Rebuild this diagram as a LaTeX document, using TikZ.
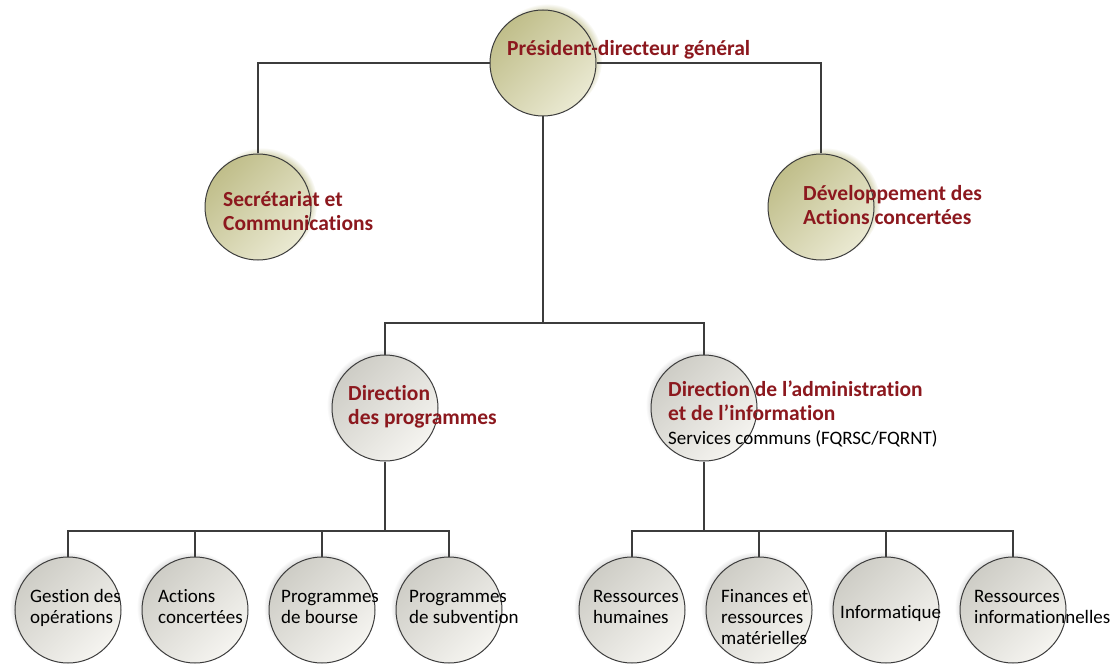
\documentclass[tikz,border=0pt]{standalone}
\usepackage{fontspec}
\setmainfont{Carlito}[Ligatures=NoCommon]
\usepackage{tikz}
\usetikzlibrary{positioning,shadows}
\definecolor{titlered}{RGB}{140,24,30}
\definecolor{olivedark}{RGB}{192,190,138}
\definecolor{olivelight}{RGB}{234,233,210}
\definecolor{graydark}{RGB}{206,205,198}
\definecolor{graylight}{RGB}{245,244,240}
\definecolor{linegray}{RGB}{60,60,60}
\tikzstyle{topunit}=[circle, draw=linegray, line width=1pt, minimum size=106pt, inner sep=0pt, shading=axis, top color=olivedark, bottom color=olivelight, shading angle=45, circular drop shadow={shadow xshift=4pt, shadow yshift=4pt, shadow scale=1.04, fill=olivedark, opacity=.7}]
\tikzstyle{subunit}=[circle, draw=linegray, line width=1pt, minimum size=106pt, inner sep=0pt, shading=axis, top color=graydark, bottom color=graylight, shading angle=45, circular drop shadow={shadow xshift=-3pt, shadow yshift=3pt, shadow scale=1.04, fill=black!40, opacity=.45}]
\tikzstyle{headtext}=[anchor=west, align=left, inner sep=0pt, text=titlered, font=\fontsize{21.5}{24}\selectfont\bfseries, execute at begin node=\strut, execute at end node=\strut]
\tikzstyle{unittext}=[anchor=west, align=left, inner sep=0pt, font=\fontsize{19}{21}\selectfont, execute at begin node=\strut, execute at end node=\strut]
\tikzstyle{link}=[draw=linegray, line width=1.3pt]
\begin{document}
\begin{tikzpicture}[x=1pt, y=-1pt, node distance=127pt]
\useasboundingbox (0,0) rectangle (1115,668);
% direction
\node[topunit] (pdg) at (543,63) {};
\node[topunit] (sec) at (258,207) {};
\node[topunit] (dev) at (821,207) {};
\node[subunit] (dprog) at (385,408) {};
\node[subunit] (dadm) at (704,408) {};
% services
\node[subunit] (gest) at (68,610) {};
\node[subunit, right of=gest] (act) {};
\node[subunit, right of=act] (bourse) {};
\node[subunit, right of=bourse] (subv) {};
\node[subunit] (rh) at (632,610) {};
\node[subunit, right of=rh] (fin) {};
\node[subunit, right of=fin] (info) {};
\node[subunit, right of=info] (rinfo) {};
% liens
\draw[link] (sec.north) |- (pdg.west);
\draw[link] (pdg.east) -| (dev.north);
\coordinate (midbus) at (543,323);
\draw[link] (pdg.south) -- (midbus);
\draw[link] (dprog.north) |- (midbus) -| (dadm.north);
\coordinate (progbus) at (385,531);
\draw[link] (dprog.south) -- (progbus);
\draw[link] (gest.north) |- (progbus) -| (subv.north);
\draw[link] (act.north) -- (act.north |- progbus);
\draw[link] (bourse.north) -- (bourse.north |- progbus);
\coordinate (admbus) at (704,531);
\draw[link] (dadm.south) -- (admbus);
\draw[link] (rh.north) |- (admbus) -| (rinfo.north);
\draw[link] (fin.north) -- (fin.north |- admbus);
\draw[link] (info.north) -- (info.north |- admbus);
% textes
\node[headtext] (pdglbl) at ([xshift=-36pt,yshift=12pt]pdg.center) {Président-directeur général};
\node[headtext] (seclbl) at ([xshift=-35pt,yshift=-8pt]sec.center) {Secrétariat et\\Communications};
\node[headtext] (devlbl) at ([xshift=-18pt,yshift=-2pt]dev.center) {Développement des\\Actions concertées};
\node[headtext] (dproglbl) at ([xshift=-37pt,yshift=-1pt]dprog.center) {Direction\\des programmes};
\node[headtext] (dadmlbl) at ([xshift=-36pt,yshift=-8pt]dadm.center) {Direction de l’administration\\et de l’information\\{\mdseries\color{black}\fontsize{19}{24}\selectfont Services communs (FQRSC/FQRNT)}};
\node[unittext] (gestlbl) at ([xshift=-38pt,yshift=0pt]gest.center) {Gestion des\\opérations};
\node[unittext] (actlbl) at ([xshift=-37pt,yshift=0pt]act.center) {Actions\\concertées};
\node[unittext] (boursetxt) at ([xshift=-41pt,yshift=0pt]bourse.center) {Programmes\\de bourse};
\node[unittext] (subvlbl) at ([xshift=-40pt,yshift=0pt]subv.center) {Programmes\\de subvention};
\node[unittext] (rhlbl) at ([xshift=-39pt,yshift=0pt]rh.center) {Ressources\\humaines};
\node[unittext] (finlbl) at ([xshift=-38pt,yshift=-10pt]fin.center) {Finances et\\ressources\\matérielles};
\node[unittext] (infolbl) at ([xshift=-46pt,yshift=-4pt]info.center) {Informatique};
\node[unittext] (rinfolbl) at ([xshift=-39pt,yshift=0pt]rinfo.center) {Ressources\\informationnelles};
\end{tikzpicture}
\end{document}
